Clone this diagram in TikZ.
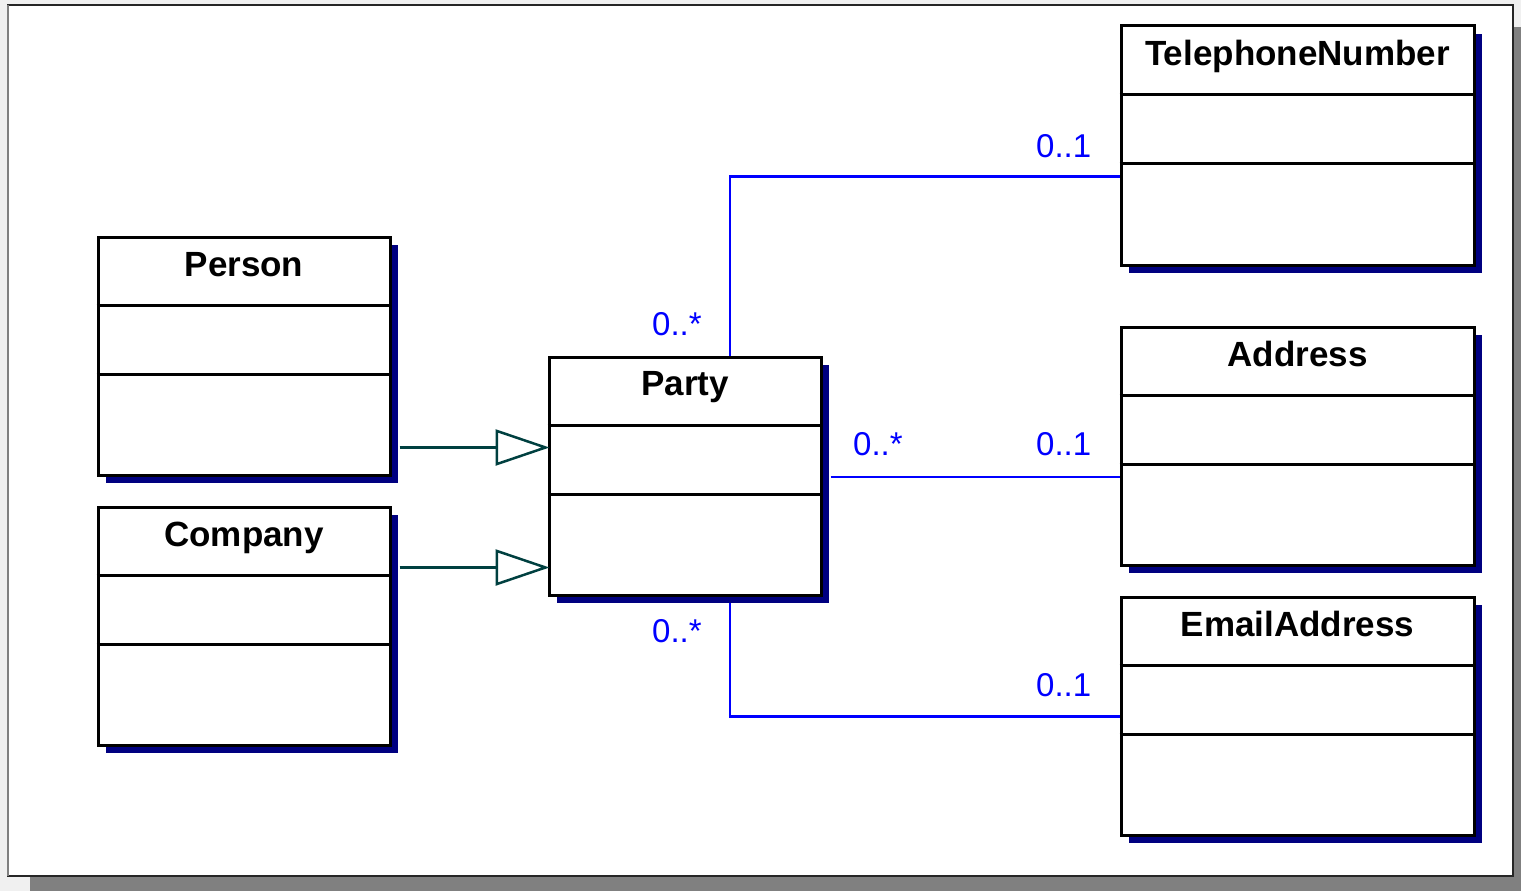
\documentclass[tikz,border=0pt]{standalone}
\usepackage{fontspec}
\setmainfont{Liberation Sans}
\usetikzlibrary{arrows.meta,shadows}
\definecolor{shadowblue}{RGB}{0,0,128}
\definecolor{assoc}{RGB}{0,0,255}
\definecolor{genline}{RGB}{0,64,64}
\definecolor{pagegray}{RGB}{128,128,128}
\definecolor{pagebg}{RGB}{240,240,240}
\begin{document}
\begin{tikzpicture}[x=1pt,y=-1pt,
  cls/.style={draw=black, line width=3pt, fill=white, rectangle, inner sep=0pt,
    general shadow={fill=shadowblue, shadow xshift=8pt, shadow yshift=-8pt}},
  sep/.style={draw=black, line width=3pt},
  title/.style={font=\fontsize{35}{40}\selectfont\bfseries, inner sep=0pt, anchor=base},
  mult/.style={font=\fontsize{33}{36}\selectfont, text=assoc, inner sep=0pt, anchor=base west},
  gen/.style={draw=genline, line width=2.5pt, shorten >=-2pt, -{Triangle[open, length=54pt, width=36pt]}},
  assocline/.style={draw=assoc, line width=2.5pt}
]
\useasboundingbox (0,0) rectangle (1521,891);
% page
\fill[pagebg] (0,0) rectangle (1521,891);
\fill[pagegray] (30,876) rectangle (1521,891);
\fill[pagegray] (1513,27) rectangle (1521,891);
\draw[fill=white, draw=black!85, line width=1.5pt] (8,5) rectangle (1513,876);
\draw[pagegray, line width=2pt] (8,5) -- (8,876);

% classes
\node[cls, minimum width=292pt, minimum height=238pt] (person) at (244,356) {};
\node[cls, minimum width=292pt, minimum height=238pt] (company) at (244,626) {};
\node[cls, minimum width=272pt, minimum height=238pt] (party) at (685,476) {};
\node[cls, minimum width=353pt, minimum height=239pt] (tel) at (1297.5,145.5) {};
\node[cls, minimum width=353pt, minimum height=238pt] (address) at (1297.5,446) {};
\node[cls, minimum width=353pt, minimum height=238pt] (email) at (1297.5,716) {};

% compartments
\foreach \n in {person,company,party,tel,address,email}{
  \draw[sep] ([yshift=-70pt]\n.north west) -- ([yshift=-70pt]\n.north east);
  \draw[sep] ([yshift=-139pt]\n.north west) -- ([yshift=-139pt]\n.north east);
}

% titles
\node[title] (personT) at ([yshift=-41pt]person.north) {Person};
\node[title] (companyT) at ([yshift=-41pt]company.north) {Company};
\node[title] (partyT) at ([yshift=-40pt]party.north) {Party};
\node[title] (telT) at ([yshift=-41pt]tel.north) {TelephoneNumber};
\node[title] (addressT) at ([yshift=-41pt]address.north) {Address};
\node[title] (emailT) at ([yshift=-41pt]email.north) {EmailAddress};

% generalizations
\coordinate (g1) at ([xshift=8pt,yshift=-212pt]person.north east);
\coordinate (g2) at ([xshift=8pt,yshift=-62pt]company.north east);
\draw[gen] (g1) -- (g1 -| party.west);
\draw[gen] (g2) -- (g2 -| party.west);

% associations
\coordinate (a1) at ([xshift=45pt]party.north);
\coordinate (a2) at ([yshift=-152pt]tel.north west);
\draw[assocline] (a1) |- (a2);
\coordinate (b1) at ([xshift=8pt,yshift=-1pt]party.east);
\draw[assocline] (b1) -- (b1 -| address.west);
\coordinate (c1) at ([xshift=45pt,yshift=-6pt]party.south);
\coordinate (c2) at ([yshift=-121pt]email.north west);
\draw[assocline] (c1) |- (c2);

% multiplicities
\node[mult] (m1) at (652,335) {0..*};
\node[mult] (m2) at (1036,157) {0..1};
\node[mult] (m3) at (853,455) {0..*};
\node[mult] (m4) at (1036,455) {0..1};
\node[mult] (m5) at (652,642) {0..*};
\node[mult] (m6) at (1036,696) {0..1};
\end{tikzpicture}
\end{document}
